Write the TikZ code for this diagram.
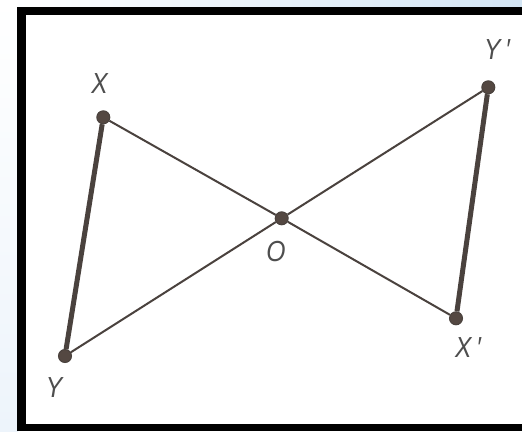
\documentclass[tikz,border=0pt]{standalone}
\usepackage{fontspec}
\newfontfamily\lab{Liberation Sans}[FakeStretch=0.85]
\definecolor{linec}{HTML}{4A423E}
\definecolor{dotc}{HTML}{544842}
\definecolor{labc}{HTML}{4E4E4E}
\definecolor{bgblue}{HTML}{D3E5F4}
\definecolor{bgpale}{HTML}{EDF4FB}
\begin{document}
\begin{tikzpicture}[x=1pt,y=-1pt,
  dot/.style={circle,fill=dotc,draw=linec,line width=1pt,inner sep=0pt,minimum size=13pt},
  lbl/.style={font=\lab\itshape\fontsize{29}{29}\selectfont,text=labc,inner sep=0pt},
  heavy/.style={draw=linec,line width=5pt},
  light/.style={draw=linec,line width=2pt}]
\useasboundingbox (0,0) rectangle (522,431);
\fill[white] (0,0) rectangle (522,431);
\shade[left color=white,right color=bgblue] (0,0) rectangle (522,8);
\shade[top color=white,bottom color=bgpale] (0,0) rectangle (18,431);
% frame
\fill[black] (17,7) rectangle (522,431);
\fill[white] (26,15) rectangle (522,424);
% points
\node[dot] (X)  at (103.3,117.3) {};
\node[dot] (Y)  at (65,356) {};
\node[dot] (O)  at (281.7,218.3) {};
\node[dot] (Yp) at (488.3,87.3) {};
\node[dot] (Xp) at (456,318.3) {};
% connectors
\draw[heavy] (X) -- (Y);
\draw[heavy] (Yp) -- (Xp);
\draw[light] (X) -- (O);
\draw[light] (O) -- (Xp);
\draw[light] (Y) -- (O);
\draw[light] (O) -- (Yp);
% labels
\node[lbl] (lX)  at (99.5,84) {X};
\node[lbl] (lY)  at (54,388) {Y};
\node[lbl] (lO)  at (276,252) {O};
\node[lbl] (lYp) at (497,50) {Y\,\char"2032};
\node[lbl] (lXp) at (468,348) {X\,\char"2032};
\end{tikzpicture}
\end{document}
